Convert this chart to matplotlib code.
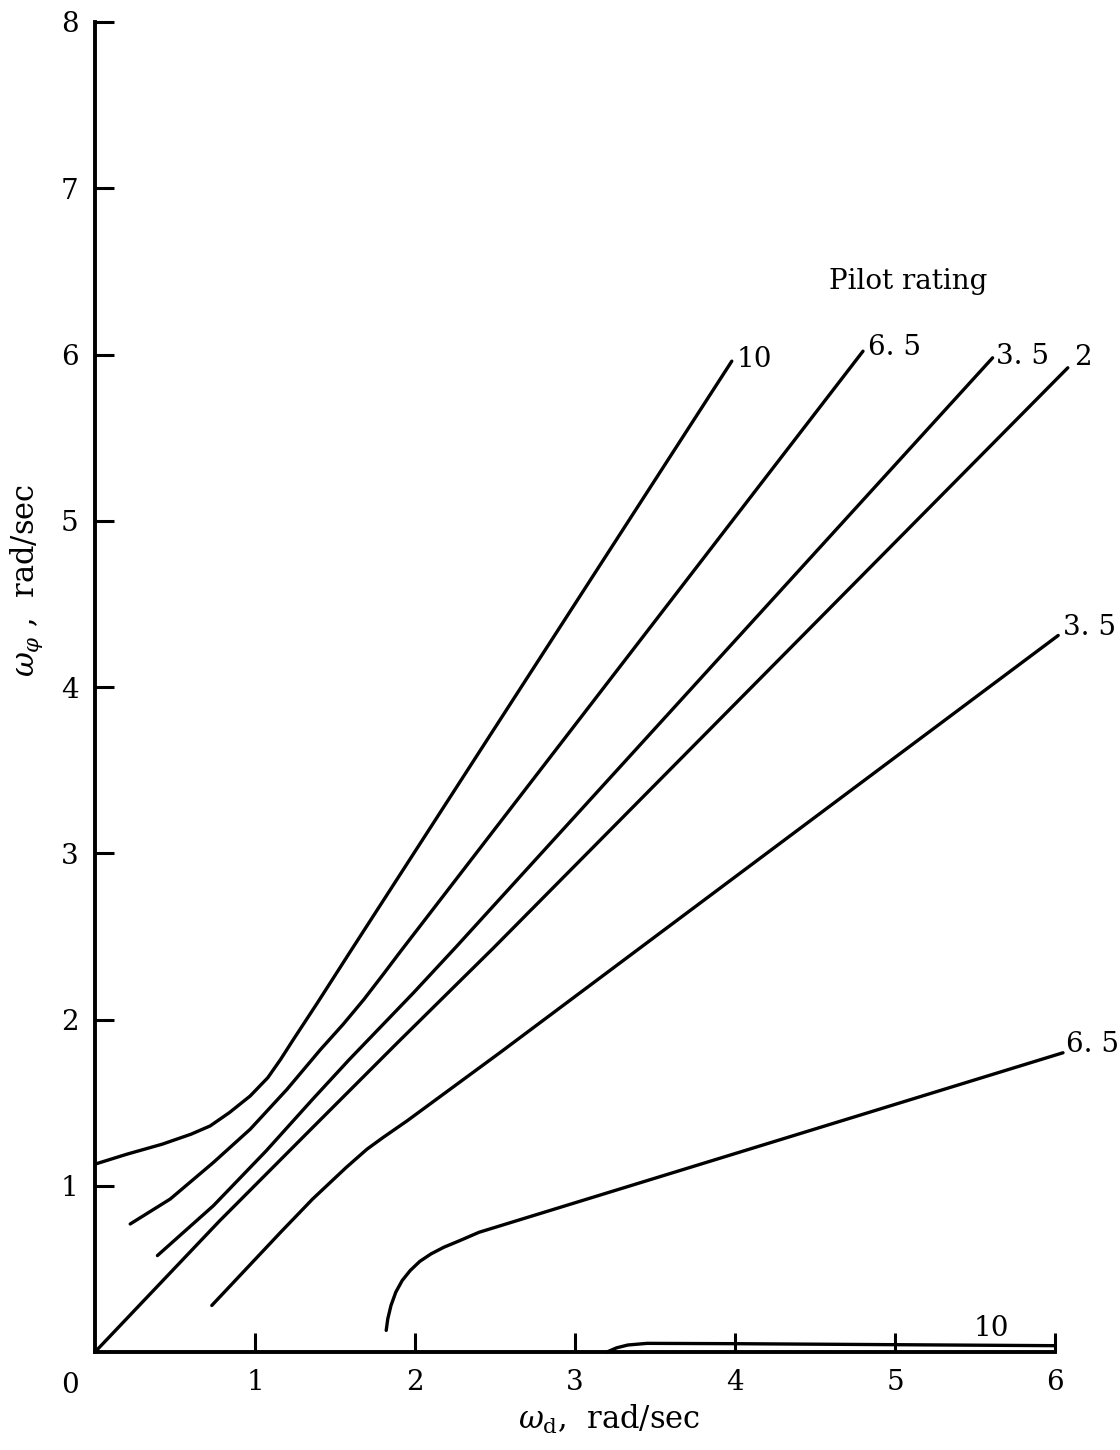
import matplotlib
matplotlib.use('Agg')
import matplotlib.pyplot as plt

plt.rcParams['font.family'] = ['DejaVu Serif']
plt.rcParams['mathtext.fontset'] = 'dejavuserif'

# Pilot rating boundaries, omega_d (x) vs omega_phi (y), rad/sec
upper_10_x = [0.0, 0.2, 0.42, 0.6, 0.72, 0.84, 0.97, 1.08, 1.16, 1.24, 1.39, 1.59, 3.98]
upper_10_y = [1.13, 1.19, 1.25, 1.31, 1.36, 1.44, 1.54, 1.65, 1.76, 1.88, 2.10, 2.40, 5.96]

upper_65_x = [0.22, 0.47, 0.74, 0.97, 1.2, 1.41, 1.55, 1.68, 1.80, 1.91, 4.80]
upper_65_y = [0.77, 0.92, 1.14, 1.34, 1.58, 1.82, 1.97, 2.12, 2.27, 2.41, 6.02]

upper_35_x = [0.39, 0.74, 1.07, 1.36, 1.59, 1.99, 2.26, 5.61]
upper_35_y = [0.58, 0.88, 1.21, 1.52, 1.76, 2.16, 2.44, 5.98]

rating_2_x = [0.0, 0.78, 1.36, 1.89, 2.49, 6.08]
rating_2_y = [0.0, 0.79, 1.35, 1.86, 2.43, 5.92]

lower_35_x = [0.73, 1.16, 1.36, 1.57, 1.70, 1.80, 1.95, 2.53, 6.02]
lower_35_y = [0.28, 0.72, 0.92, 1.11, 1.22, 1.29, 1.39, 1.80, 4.31]

lower_65_x = [1.82, 1.83, 1.85, 1.88, 1.92, 1.97, 2.03, 2.10, 2.18, 2.28, 2.40, 6.05]
lower_65_y = [0.13, 0.20, 0.28, 0.36, 0.43, 0.49, 0.545, 0.59, 0.63, 0.67, 0.72, 1.80]

lower_10_x = [3.2, 3.26, 3.33, 3.45, 4.0, 6.0]
lower_10_y = [0.0, 0.025, 0.042, 0.052, 0.05, 0.038]

curves = [
    (upper_10_x, upper_10_y),
    (upper_65_x, upper_65_y),
    (upper_35_x, upper_35_y),
    (rating_2_x, rating_2_y),
    (lower_35_x, lower_35_y),
    (lower_65_x, lower_65_y),
    (lower_10_x, lower_10_y),
]

# curve labels: text, anchor point
curve_labels = [
    ('10', 4.01, 5.97),
    ('6. 5', 4.83, 6.04),
    ('3. 5', 5.63, 5.99),
    ('2', 6.12, 5.98),
    ('3. 5', 6.05, 4.36),
    ('6. 5', 6.07, 1.85),
    ('10', 5.49, 0.14),
]

x_ticks = [1, 2, 3, 4, 5, 6]
y_ticks = [1, 2, 3, 4, 5, 6, 7, 8]

fig = plt.figure(figsize=(11.2, 14.5), dpi=100)
ax = fig.add_axes([95 / 1120, 1 - 1352 / 1450, 960 / 1120, 1330 / 1450])

for xs, ys in curves:
    ax.plot(xs, ys, color='black', lw=2.4, solid_capstyle='round',
            solid_joinstyle='round', clip_on=False)

for text, x, y in curve_labels:
    ax.text(x, y, text, fontsize=20, ha='left', va='center')

ax.text(4.59, 6.44, 'Pilot rating', fontsize=20, ha='left', va='center')

ax.set_xlim(0, 6)
ax.set_ylim(0, 8)
ax.spines['top'].set_visible(False)
ax.spines['right'].set_visible(False)
ax.spines['left'].set_linewidth(2.8)
ax.spines['bottom'].set_linewidth(2.8)

ax.set_xticks(x_ticks)
ax.set_yticks(y_ticks)
ax.set_xticklabels([str(t) for t in x_ticks])
ax.set_yticklabels([str(t) for t in y_ticks])
ax.tick_params(axis='both', direction='in', length=14, width=2.2, labelsize=20)
ax.tick_params(axis='x', pad=12)
ax.tick_params(axis='y', pad=12)

# shared origin label
ax.annotate('0', xy=(0, 0), xytext=(-18, -24), textcoords='offset points',
            fontsize=20, ha='center', va='center')

ax.set_xlabel(r'$\omega_{\rm d}$,  rad/sec', fontsize=22)
ax.xaxis.set_label_coords(0.536, -0.038)
ax.set_ylabel(r'$\omega_{\varphi}$ ,  rad/sec', fontsize=22)
ax.yaxis.set_label_coords(-0.052, 0.58)

fig.savefig('out.png', dpi=100)
